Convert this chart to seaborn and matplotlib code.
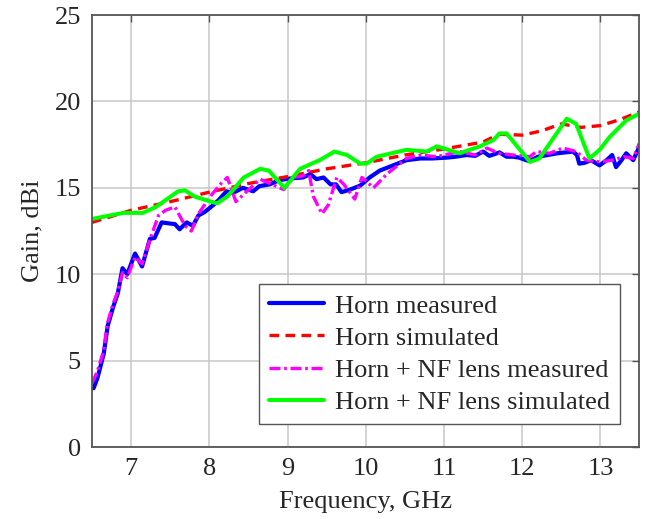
import matplotlib
matplotlib.use("Agg")
import matplotlib.pyplot as plt
import seaborn as sns
import numpy as np

# ---- data ----
horn_meas_f = [6.52, 6.57, 6.65, 6.70, 6.77, 6.83, 6.89, 6.95, 7.05, 7.14, 7.24, 7.30, 7.39, 7.47,
               7.56, 7.62, 7.71, 7.79, 7.86, 7.94, 8.05, 8.12, 8.22, 8.30, 8.43, 8.56, 8.64, 8.77,
               8.90, 9.05, 9.20, 9.29, 9.37, 9.46, 9.55, 9.62, 9.69, 9.80, 9.93, 10.05, 10.18, 10.35,
               10.52, 10.70, 10.85, 11.04, 11.15, 11.29, 11.40, 11.50, 11.58, 11.71, 11.80, 11.88,
               11.96, 12.05, 12.10, 12.20, 12.33, 12.45, 12.55, 12.65, 12.70, 12.73, 12.80, 12.88,
               12.99, 13.08, 13.15, 13.20, 13.27, 13.33, 13.42, 13.50]
horn_meas_g = [3.4, 4.0, 5.4, 7.0, 8.1, 8.9, 10.35, 10.0, 11.2, 10.45, 12.05, 12.1, 13.0, 12.95,
               12.9, 12.6, 13.0, 12.8, 13.4, 13.6, 14.0, 14.3, 14.8, 14.7, 15.0, 14.8, 15.1, 15.2,
               15.45, 15.55, 15.6, 15.8, 15.5, 15.6, 15.2, 15.2, 14.75, 14.9, 15.13, 15.6, 16.0, 16.3,
               16.6, 16.7, 16.7, 16.75, 16.8, 16.9, 16.85, 17.1, 16.85, 17.05, 16.8, 16.8,
               16.75, 16.6, 16.55, 16.8, 16.9, 17.0, 17.05, 17.1, 16.9, 16.4, 16.45, 16.6,
               16.3, 16.6, 16.9, 16.2, 16.6, 17.0, 16.6, 17.4]

horn_sim_f = [6.5, 7.0, 7.5, 8.0, 8.5, 9.0, 9.5, 10.0, 10.5, 11.0, 11.5, 11.7, 12.0, 12.25,
              12.5, 12.75, 13.0, 13.25, 13.5]
horn_sim_g = [13.0, 13.7, 14.2, 14.75, 15.25, 15.65, 16.1, 16.45, 16.9, 17.25, 17.65, 18.1, 18.05,
              18.3, 18.7, 18.5, 18.6, 18.95, 19.4]

lens_meas_f = [6.50, 6.57, 6.65, 6.70, 6.77, 6.83, 6.89, 6.95, 7.05, 7.14, 7.24, 7.35, 7.44, 7.56,
               7.69, 7.77, 7.86, 8.03, 8.15, 8.23, 8.34, 8.48, 8.65, 8.80, 8.95, 9.08, 9.20, 9.27,
               9.33, 9.44, 9.52, 9.63, 9.72, 9.86, 9.95, 10.10, 10.27, 10.52, 10.70, 10.90, 11.20,
               11.40, 11.55, 11.70, 11.88, 12.10, 12.18, 12.35, 12.52, 12.69, 12.82, 12.99, 13.15,
               13.30, 13.42, 13.50]
lens_meas_g = [3.7, 4.4, 5.6, 7.2, 8.3, 9.0, 10.1, 9.8, 11.0, 10.6, 12.0, 13.4, 13.7, 13.9,
               12.8, 12.5, 13.5, 14.6, 15.25, 15.6, 14.2, 14.8, 15.5, 15.2, 14.9, 15.6, 15.7, 16.0,
               14.5, 13.5, 14.0, 15.6, 15.2, 14.35, 15.6, 15.0, 15.8, 16.7, 16.9, 16.8, 17.1,
               16.9, 17.3, 17.0, 16.9, 16.8, 17.1, 17.0, 17.3, 17.1, 16.6, 16.5, 16.6,
               16.8, 16.7, 17.6]

lens_sim_f = [6.5, 6.9, 7.15, 7.32, 7.60, 7.69, 7.81, 8.02, 8.10, 8.23, 8.44, 8.65, 8.76, 8.96,
              9.16, 9.41, 9.60, 9.76, 9.93, 10.01, 10.14, 10.52, 10.78, 10.91, 11.20, 11.46, 11.63,
              11.71, 11.80, 12.10, 12.22, 12.57, 12.69, 12.86, 12.99, 13.12, 13.33, 13.50]
lens_sim_g = [13.2, 13.55, 13.55, 13.9, 14.8, 14.85, 14.5, 14.2, 14.1, 14.5, 15.6, 16.1, 16.0, 15.0,
              16.1, 16.6, 17.1, 16.9, 16.4, 16.4, 16.8, 17.2, 17.1, 17.4, 17.0, 17.4, 17.76,
              18.15, 18.15, 16.5, 16.7, 19.0, 18.7, 16.7, 17.2, 17.95, 18.9, 19.3]

labels = ["Horn measured", "Horn simulated", "Horn + NF lens measured", "Horn + NF lens simulated"]
x_ticks = [7, 8, 9, 10, 11, 12, 13]
y_ticks = [0, 5, 10, 15, 20, 25]

# ---- style ----
sns.set_style("whitegrid")
plt.rcParams["font.family"] = ["Liberation Serif", "DejaVu Serif"]
FS = 19

fig = plt.figure(figsize=(6.54, 5.19), dpi=100)
ax = fig.add_axes([0.1407, 0.1387, 0.8371, 0.8323])

sns.lineplot(x=horn_meas_f, y=horn_meas_g, ax=ax, color="#0000ff", linewidth=3.0,
             label=labels[0], sort=False)
sns.lineplot(x=horn_sim_f, y=horn_sim_g, ax=ax, color="#ff0000", linewidth=2.4,
             linestyle=(0, (2.9, 1.9)), label=labels[1], sort=False)
sns.lineplot(x=lens_meas_f, y=lens_meas_g, ax=ax, color="#ff00ff", linewidth=2.4,
             linestyle=(0, (3.3, 1.1, 0.8, 1.1)), label=labels[2], sort=False)
sns.lineplot(x=lens_sim_f, y=lens_sim_g, ax=ax, color="#00ff00", linewidth=2.9,
             label=labels[3], sort=False)

ax.set_xlim(6.5, 13.5)
ax.set_ylim(0, 25)
ax.set_xticks(x_ticks)
ax.set_yticks(y_ticks)
ax.tick_params(axis="both", labelsize=FS, direction="in", length=5, width=1,
               color="#555555", top=True, right=True, pad=8)
ax.grid(True, color="#c8c8c8", linewidth=1.1)
for s in ax.spines.values():
    s.set_color("#555555")
    s.set_linewidth(1.3)
ax.set_facecolor("white")

ax.set_xlabel("Frequency, GHz", fontsize=FS, labelpad=8)
ax.set_ylabel("Gain, dBi", fontsize=FS, labelpad=8)

leg = ax.legend(loc="lower right", bbox_to_anchor=(0.964, 0.053), borderaxespad=0,
                fontsize=FS, frameon=True, fancybox=False, framealpha=1,
                edgecolor="#555555", handlelength=2.1, handletextpad=0.4,
                labelspacing=0.33, borderpad=0.38)
leg.get_frame().set_linewidth(1.0)

fig.savefig("out.png", dpi=100)
